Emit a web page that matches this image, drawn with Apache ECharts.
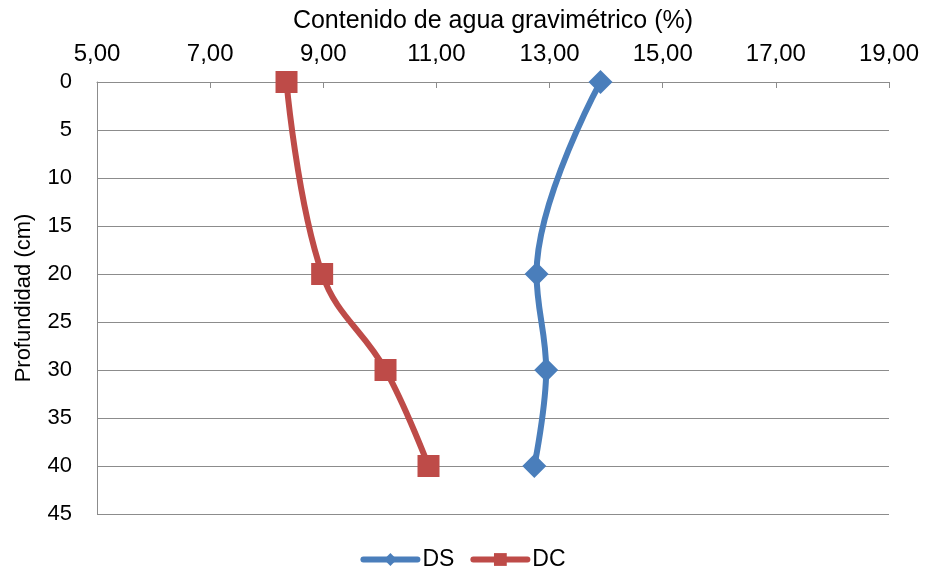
<!DOCTYPE html>
<html>
<head>
<meta charset="utf-8">
<script src="https://cdn.jsdelivr.net/npm/echarts@6/dist/echarts.min.js"></script>
<style>
  html, body { margin: 0; padding: 0; background: #fff; }
  #chart { width: 926px; height: 572px; }
</style>
</head>
<body>
<div id="chart"></div>
<script>
// Soil depth (cm) and gravimetric water content (%) for the two treatments
const depths = [0, 20, 30, 40];
const dsValues = [13.90, 12.77, 12.94, 12.73];
const dcValues = [8.35, 8.98, 10.10, 10.86];
const xTicks = { min: 5, max: 19, step: 2 };
const yTicks = { min: 0, max: 45, step: 5 };

const FONT = '"Liberation Sans", Arial, sans-serif';
const AXIS_GRAY = '#8c8c8c';

function pairs(values) {
  return values.map((v, i) => [v, depths[i]]);
}

const chart = echarts.init(document.getElementById('chart'), null, { renderer: 'canvas' });

chart.setOption({
  animation: false,
  backgroundColor: '#ffffff',
  textStyle: { fontFamily: FONT },
  grid: {
    left: 97, right: 37, top: 82, bottom: 58,
    containLabel: false,
    outerBoundsMode: 'none'
  },
  legend: {
    bottom: -4,
    left: 'center',
    itemWidth: 54,
    itemHeight: 16,
    itemGap: 16,
    lineStyle: { width: 6, cap: 'round' },
    textStyle: { fontFamily: FONT, fontSize: 23, color: '#000' },
    data: ['DS', 'DC']
  },
  xAxis: {
    type: 'value',
    position: 'top',
    min: xTicks.min,
    max: xTicks.max,
    interval: xTicks.step,
    name: 'Contenido de agua gravimétrico (%)',
    nameLocation: 'middle',
    nameGap: 48,
    nameTextStyle: { fontFamily: FONT, fontSize: 25, color: '#000' },
    axisLine: { show: true, lineStyle: { color: AXIS_GRAY, width: 1 } },
    axisTick: { show: true, inside: true, length: 6, lineStyle: { color: AXIS_GRAY } },
    axisLabel: {
      margin: 16,
      fontFamily: FONT,
      fontSize: 24,
      color: '#000',
      formatter: v => v.toFixed(2).replace('.', ',')
    },
    splitLine: { show: false }
  },
  yAxis: {
    type: 'value',
    inverse: true,
    min: yTicks.min,
    max: yTicks.max,
    interval: yTicks.step,
    name: 'Profundidad (cm)',
    nameLocation: 'middle',
    nameGap: 62,
    nameRotate: 90,
    nameTextStyle: { fontFamily: FONT, fontSize: 22, color: '#000' },
    axisLine: { show: true, lineStyle: { color: AXIS_GRAY, width: 1 } },
    axisTick: { show: false },
    axisLabel: { margin: 25, fontFamily: FONT, fontSize: 22, color: '#000' },
    splitLine: { show: true, lineStyle: { color: AXIS_GRAY, width: 1 } }
  },
  series: [
    {
      name: 'DS',
      type: 'line',
      data: pairs(dsValues),
      smooth: 0.38,
      smoothConstraint: false,
      symbol: 'diamond',
      symbolSize: 24,
      lineStyle: { color: '#4a7ebb', width: 6, cap: 'round' },
      itemStyle: { color: '#4a7ebb' }
    },
    {
      name: 'DC',
      type: 'line',
      data: pairs(dcValues),
      smooth: 0.4,
      smoothConstraint: false,
      symbol: 'rect',
      symbolSize: 22,
      lineStyle: { color: '#be4b48', width: 6, cap: 'round' },
      itemStyle: { color: '#be4b48' }
    }
  ]
});
</script>
</body>
</html>
